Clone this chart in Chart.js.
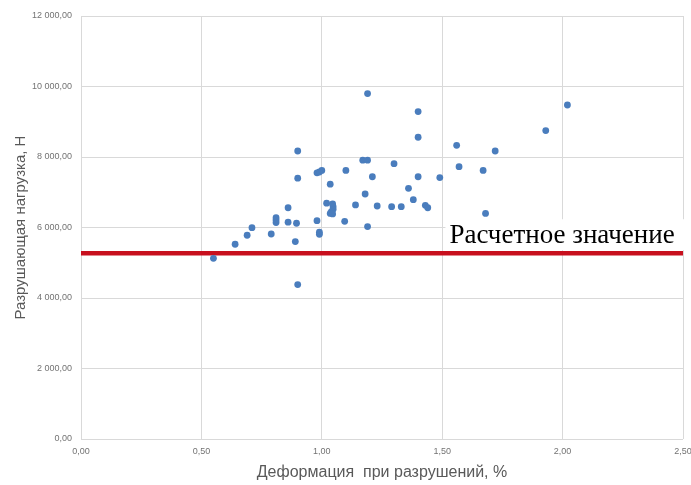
<!DOCTYPE html>
<html>
<head>
<meta charset="utf-8">
<script src="https://cdn.jsdelivr.net/npm/chart.js@4"></script>
<style>
    html, body { margin: 0; padding: 0; background: #fff; }
    #wrap { width: 691px; height: 485px; }
</style>
</head>
<body>
<div id="wrap"><canvas id="grafico"></canvas></div>
<script>
// deformation at failure, %
const deformacao = [
    1.19, 0.90, 1.17, 1.19, 0.98, 0.99, 1.00, 1.10, 0.90, 1.21,
    1.035, 1.18, 1.02, 1.045, 1.047, 1.047, 1.04, 1.035, 1.045, 1.14,
    1.23, 0.86, 0.81, 0.81, 0.81, 0.86, 0.895, 0.98, 1.095, 1.19,
    0.71, 0.69, 0.79, 0.99, 0.99, 0.89, 0.64, 0.55, 0.90, 1.40,
    1.40, 2.02, 1.93, 1.56, 1.72, 1.30, 1.57, 1.67, 1.40, 1.49,
    1.36, 1.38, 1.29, 1.33, 1.43, 1.44, 1.68
]
// breaking load, N
const carga = [
    9800, 8170, 7910, 7910, 7550, 7575, 7620, 7620, 7400, 7440,
    7230, 6950, 6690, 6670, 6590, 6515, 6450, 6400, 6385, 6640,
    6610, 6560, 6280, 6210, 6140, 6150, 6120, 6195, 6175, 6025,
    5995, 5780, 5815, 5865, 5805, 5600, 5525, 5125, 4380, 9290,
    8560, 9475, 8750, 8330, 8170, 7810, 7725, 7620, 7440, 7415,
    7110, 6790, 6590, 6590, 6630, 6560, 6400
]
const limiteX = [0, 2.5]
const valorCalculado = 5270
const textoCalculado = 'Расчетное значение'
const tituloX = 'Деформация  при разрушений, %'
const tituloY = 'Разрушающая нагрузка, Н'

const fmt = (v) => {
    const [i, d] = v.toFixed(2).split('.')
    return i.replace(/\B(?=(\d{3})+(?!\d))/g, ' ') + ',' + d
}

const labelPlugin = {
    id: 'labelCalculado',
    afterDatasetsDraw(chart) {
        const { ctx, scales: { x, y } } = chart
        const yPix = y.getPixelForValue(valorCalculado)
        const xPix = x.getPixelForValue(1.53)
        ctx.save()
        ctx.fillStyle = '#fff'
        ctx.fillRect(xPix - 4, yPix - 34, chart.width - xPix + 4, 31)
        ctx.fillStyle = '#000'
        ctx.font = '27px "Liberation Serif", "Times New Roman", serif'
        ctx.textBaseline = 'alphabetic'
        ctx.fillText(textoCalculado, xPix, yPix - 10)
        ctx.restore()
    }
}

const titleFont = { family: '"Liberation Sans", Arial, sans-serif', size: 15 }
const tickFont = { family: '"Liberation Sans", Arial, sans-serif', size: 9 }

new Chart(document.getElementById('grafico'), {
    type: 'scatter',
    data: {
        datasets: [
            {
                label: 'Разрушающая нагрузка',
                data: deformacao.map((d, i) => ({ x: d, y: carga[i] })),
                backgroundColor: '#4a7dbd',
                borderWidth: 0,
                pointRadius: 3.4,
            },
            {
                type: 'line',
                label: textoCalculado,
                data: limiteX.map(v => ({ x: v, y: valorCalculado })),
                borderColor: '#c8101e',
                borderWidth: 4.5,
                pointRadius: 0,
                clip: false,
            }
        ]
    },
    options: {
        responsive: true,
        maintainAspectRatio: false,
        animation: false,
        layout: { padding: { top: 16, right: 8, left: 0, bottom: 0 } },
        plugins: {
            legend: { display: false },
            tooltip: { enabled: false },
        },
        scales: {
            x: {
                type: 'linear',
                min: 0,
                max: 2.5,
                grid: { color: '#d9d9d9', drawTicks: false },
                border: { display: false },
                ticks: {
                    stepSize: 0.5,
                    padding: 7,
                    color: '#737373',
                    font: tickFont,
                    callback: (v) => fmt(v),
                },
                title: {
                    display: true,
                    text: tituloX,
                    color: '#595959',
                    font: { ...titleFont, size: 16 },
                    padding: { top: 0, bottom: 3 },
                },
                afterFit: (s) => { s.height = 46; s.paddingLeft = 0; s.paddingRight = 0 },
            },
            y: {
                min: 0,
                max: 12000,
                grid: { color: '#d9d9d9', drawTicks: false },
                border: { display: false },
                ticks: {
                    stepSize: 2000,
                    padding: 9,
                    color: '#737373',
                    font: tickFont,
                    callback: (v) => fmt(v),
                },
                title: {
                    display: true,
                    text: tituloY,
                    color: '#595959',
                    font: titleFont,
                    padding: { top: 12, bottom: 0 },
                },
                afterFit: (s) => { s.width = 81; s.paddingTop = 0; s.paddingBottom = 0 },
            }
        }
    },
    plugins: [labelPlugin]
})
</script>
</body>
</html>
